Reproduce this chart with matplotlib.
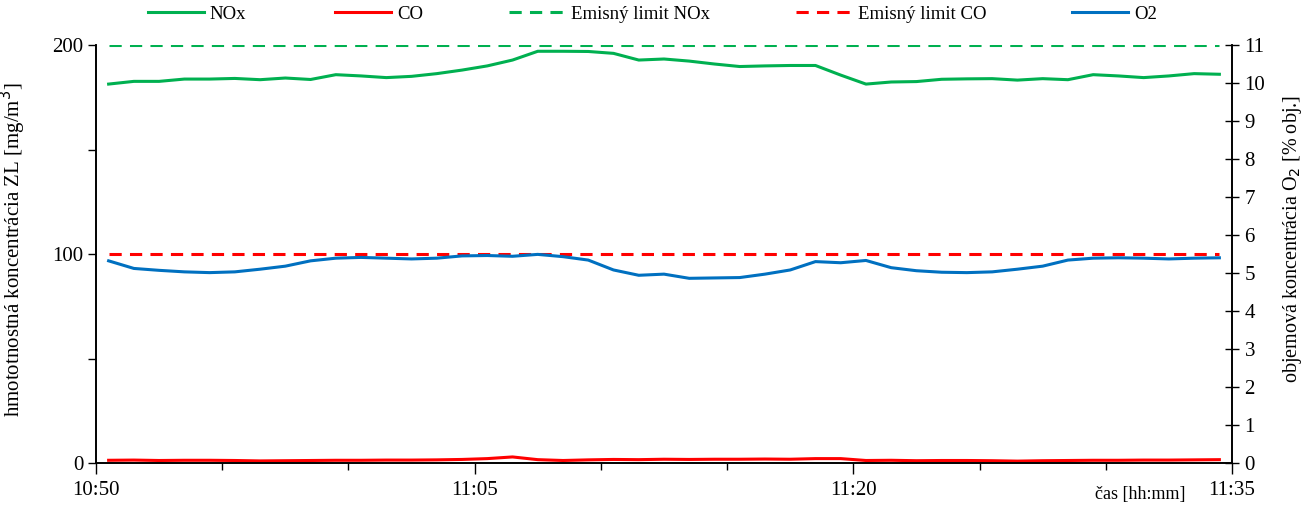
import matplotlib
matplotlib.use('Agg')
import matplotlib.pyplot as plt
import numpy as np
from matplotlib.ticker import MultipleLocator, FixedLocator

plt.rcParams['font.family'] = ['Liberation Serif', 'DejaVu Serif']

# time in minutes after 10:50 (one reading per minute, mid-minute)
minutes = np.arange(45) + 0.5

nox = [181.3, 182.6, 182.6, 183.7, 183.7, 184.0, 183.4, 184.2, 183.5, 185.8,
       185.2, 184.4, 185.0, 186.3, 188.0, 190.0, 192.8, 197.0, 197.0, 196.9,
       196.0, 192.8, 193.3, 192.3, 190.9, 189.7, 190.0, 190.2, 190.2, 185.6,
       181.3, 182.3, 182.5, 183.6, 183.8, 183.9, 183.2, 183.9, 183.4, 185.8,
       185.2, 184.4, 185.2, 186.3, 186.0]

co = [1.3, 1.4, 1.2, 1.3, 1.3, 1.2, 1.0, 1.1, 1.2, 1.3,
      1.3, 1.4, 1.4, 1.5, 1.7, 2.1, 2.9, 1.6, 1.2, 1.5,
      1.7, 1.6, 1.8, 1.7, 1.8, 1.8, 1.9, 1.8, 2.1, 2.1,
      1.2, 1.3, 1.1, 1.2, 1.2, 1.1, 0.9, 1.1, 1.2, 1.3,
      1.3, 1.4, 1.4, 1.5, 1.6]

o2 = [5.32, 5.12, 5.07, 5.03, 5.01, 5.03, 5.10, 5.18, 5.32, 5.39,
      5.41, 5.39, 5.37, 5.39, 5.45, 5.46, 5.44, 5.49, 5.43, 5.34,
      5.08, 4.94, 4.97, 4.86, 4.87, 4.88, 4.97, 5.08, 5.30, 5.27,
      5.33, 5.14, 5.06, 5.02, 5.01, 5.03, 5.10, 5.18, 5.34, 5.39,
      5.40, 5.39, 5.37, 5.39, 5.40]

limit_nox = 200
limit_co = 100

tick_minutes = [0, 15, 30, 45]
tick_labels = ['10:50', '11:05', '11:20', '11:35']

green = '#00b050'
red = '#ff0000'
blue = '#0070c0'

fig = plt.figure(figsize=(13.11, 5.08), dpi=100)
ax = fig.add_axes([96 / 1311, 45 / 508, (1232 - 96) / 1311, (463 - 45) / 508])
ax2 = ax.twinx()

l1, = ax.plot(minutes, nox, color=green, lw=2.2, label='NOx')
l2, = ax.plot(minutes, co, color=red, lw=2.2, label='CO')
l3, = ax.plot(minutes, [limit_nox] * len(minutes), color=green, lw=2.2,
              ls=(0, (4, 2.7)), label='Emisný limit NOx')
l4, = ax.plot(minutes, [limit_co] * len(minutes), color=red, lw=2.2,
              ls=(0, (4, 2.7)), label='Emisný limit CO')
l5, = ax2.plot(minutes, o2, color=blue, lw=2.2, label='O2')

ax.set_xlim(0, 45)
ax.set_ylim(0, 200)
ax2.set_ylim(0, 11)

for a in (ax, ax2):
    a.spines['top'].set_visible(False)
    for s in a.spines.values():
        s.set_linewidth(1.2)

ax.set_xticks(tick_minutes)
ax.set_xticklabels(tick_labels)
ax.xaxis.set_minor_locator(MultipleLocator(5))
ax.set_yticks([0, 100, 200])
ax.yaxis.set_minor_locator(FixedLocator([50, 150]))
ax.tick_params(axis='both', which='major', labelsize=15, length=6, width=1, pad=3)
ax.tick_params(axis='y', which='minor', length=6, width=1)
ax.tick_params(axis='x', which='minor', length=5, width=1)
ax.tick_params(axis='x', which='major', length=8, pad=5)

ax2.yaxis.set_major_locator(MultipleLocator(1))
ax2.tick_params(axis='y', which='major', labelsize=15, direction='inout',
                length=10, width=1, pad=4)

ax.set_ylabel('hmototnostná koncentrácia ZL [mg/m$^3$]', fontsize=15)
ax.yaxis.set_label_coords(-0.06, 0.51)
ax2.set_ylabel('objemová koncentrácia O$_2$ [% obj.]', fontsize=14.5)
ax2.yaxis.set_label_coords(1.043, 0.535)
fig.text(1140 / 1311, 1 - 494 / 508, 'čas [hh:mm]', fontsize=13,
         ha='center', va='center')

# legend entries laid out along the top like the original
legend_x = [148, 335, 509, 796, 1072]
for handle, xpix in zip([l1, l2, l3, l4, l5], legend_x):
    fig.legend(handles=[handle], loc='center left',
               bbox_to_anchor=(xpix / 1311, 1 - 14 / 508), frameon=False,
               fontsize=13.5, handlelength=3.0, handletextpad=0.3,
               borderpad=0, borderaxespad=0)

fig.savefig('out.png', dpi=100)
